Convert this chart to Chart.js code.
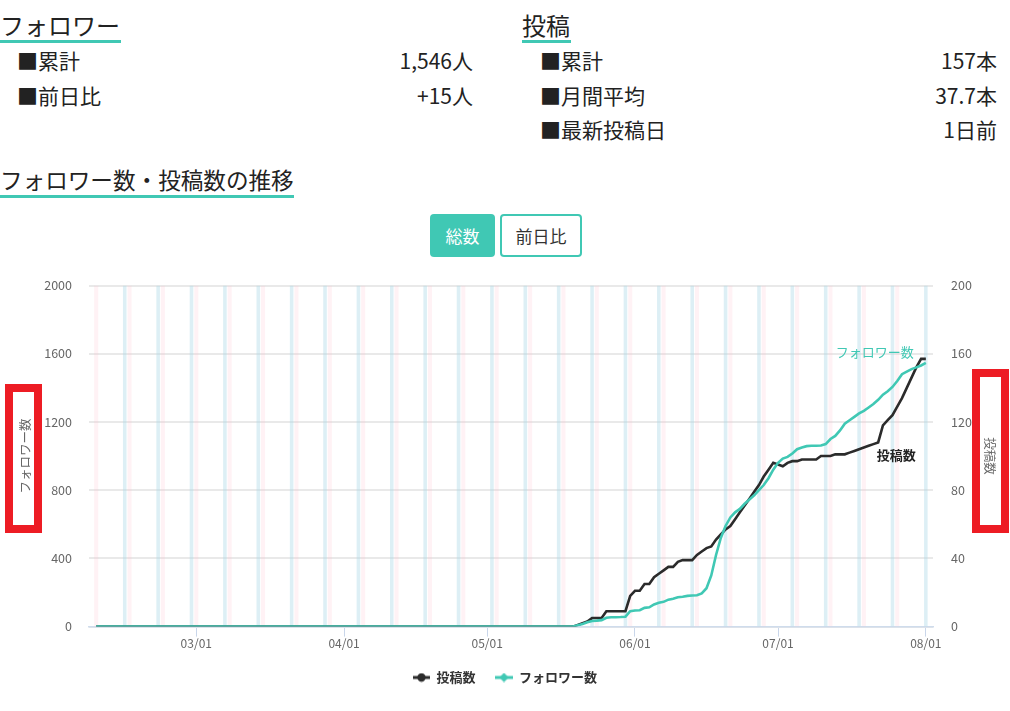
<!DOCTYPE html>
<html><head><meta charset="utf-8">
<script src="https://cdn.jsdelivr.net/npm/chart.js@4.4.0/dist/chart.umd.min.js"></script>
<style>
body{margin:0;background:#fff;font-family:'Noto Sans CJK JP',sans-serif;color:#222;width:1010px;height:711px;overflow:hidden;position:relative}
.a{position:absolute;white-space:nowrap}
.h{font-size:24px;line-height:24px}
.u{position:absolute;height:3px;background:#40c8b4}
.r{font-size:21px;line-height:21px}
.btn{position:absolute;top:214px;height:43px;box-sizing:border-box;border-radius:4px;font-size:17px;display:flex;align-items:center;justify-content:center}
.box{position:absolute;border:8px solid #ed1c24;box-sizing:border-box;background:#fff}
#wrap{position:absolute;left:0;top:260px;width:1010px;height:450px}
</style></head><body>
<div class="a h" style="left:0;top:13px">フォロワー</div>
<div class="u" style="left:0;top:40px;width:121px"></div>
<div class="a r" style="left:17px;top:49.5px">■累計</div>
<div class="a r" style="right:537px;top:49.5px">1,546人</div>
<div class="a r" style="left:17px;top:84.5px">■前日比</div>
<div class="a r" style="right:537px;top:84.5px">+15人</div>

<div class="a h" style="left:522px;top:13px">投稿</div>
<div class="u" style="left:522px;top:40px;width:49px"></div>
<div class="a r" style="left:540px;top:49.5px">■累計</div>
<div class="a r" style="right:13px;top:49.5px">157本</div>
<div class="a r" style="left:540px;top:84.5px">■月間平均</div>
<div class="a r" style="right:13px;top:84.5px">37.7本</div>
<div class="a r" style="left:540px;top:118.5px">■最新投稿日</div>
<div class="a r" style="right:13px;top:118.5px">1日前</div>

<div class="a" style="left:0;top:168.7px;font-size:22.6px;line-height:22.6px">フォロワー数・投稿数の推移</div>
<div class="u" style="left:0;top:195px;width:294px"></div>

<div class="btn" style="left:430px;width:65px;background:#40c8b4;color:#fff">総数</div>
<div class="btn" style="left:500px;width:82px;border:2px solid #40c8b4;color:#333;background:#fff">前日比</div>

<div class="box" style="left:5px;top:384px;width:37px;height:149px"></div>
<div class="box" style="left:972px;top:369px;width:37px;height:164px"></div>

<div id="wrap"><canvas id="c" width="1010" height="450"></canvas></div>
<script>
// ---- data ----
const firstDay = [2020, 1, 8];   // first category (padding day), Feb 8 2020
const dayCount = 177;            // Feb 8 .. Aug 2
const monthTicks = ['03/01','04/01','05/01','06/01','07/01','08/01'];
const followerTicks = [0,400,800,1200,1600,2000];
const postTicks = [0,40,80,120,160,200];

// daily totals, Feb 9 .. Aug 1
const posts = [
0,0,0,0,0,0,0,0,0,0, 0,0,0,0,0,0,0,0,0,0,
0,0,0,0,0,0,0,0,0,0, 0,0,0,0,0,0,0,0,0,0,
0,0,0,0,0,0,0,0,0,0, 0,0,0,0,0,0,0,0,0,0,
0,0,0,0,0,0,0,0,0,0, 0,0,0,0,0,0,0,0,0,0,
0,0,0,0,0,0,0,0,0,0, 0,0,0,0,0,0,0,0,0,0,
0,
1,2,3,5,5,5,9,9,9,9,
9,18,21,21,25,25,29,31,33,35,
35,38,39,39,39,42,44,46,47,51,
54,57,59,63,67,71,75,79,83,88,
92,96,95,94,96,97,97,98,98,98,
98,100,100,100,101,101,101,102,103,104,
105,106,107,108,118,121,124,129,134,140,
146,152,157,157
];
const followers = [
0,0,0,0,0,0,0,0,0,0, 0,0,0,0,0,0,0,0,0,0,
0,0,0,0,0,0,0,0,0,0, 0,0,0,0,0,0,0,0,0,0,
0,0,0,0,0,0,0,0,0,0, 0,0,0,0,0,0,0,0,0,0,
0,0,0,0,0,0,0,0,0,0, 0,0,0,0,0,0,0,0,0,0,
0,0,0,0,0,0,0,0,0,0, 0,0,0,0,0,0,0,0,0,0,
0,
8,15,25,33,35,38,52,55,55,56,
58,90,94,96,110,113,130,140,145,158,
163,172,175,180,182,184,195,225,300,420,
520,590,640,670,690,720,745,770,800,830,
870,920,960,985,995,1015,1040,1050,1058,1060,
1060,1062,1070,1100,1118,1150,1190,1210,1230,1250,
1265,1285,1305,1330,1360,1380,1405,1440,1480,1495,
1510,1520,1531,1546
];

// ---- calendar categories ----
const categories = [], weekday = [];
for (let i = 0; i < dayCount; i++) {
  const d = new Date(firstDay[0], firstDay[1], firstDay[2] + i);
  categories.push(String(d.getMonth()+1).padStart(2,'0') + '/' + String(d.getDate()).padStart(2,'0'));
  weekday.push(d.getDay());
}
const hasData = i => i >= 1 && i <= posts.length;
const satBand = weekday.map((w,i) => (w === 6 && hasData(i)) ? 1 : null);
const sunBand = weekday.map((w,i) => (w === 0 && hasData(i)) ? 1 : null);
const postSeries = [null, ...posts, null];
const followerSeries = [null, ...followers, null];

const TEAL = '#40c8b4', DARK = '#2b2b2b';
const FONT = "'Noto Sans CJK JP', sans-serif";

function marker(color, kind){
  const c = document.createElement('canvas'); c.width = 17; c.height = 10;
  const g = c.getContext('2d');
  g.strokeStyle = color; g.lineWidth = 3;
  g.beginPath(); g.moveTo(0,5); g.lineTo(17,5); g.stroke();
  g.fillStyle = color; g.beginPath();
  if (kind === 'circle') g.arc(8.5,5,4.2,0,Math.PI*2);
  else { g.moveTo(8.5,0.3); g.lineTo(13,5); g.lineTo(8.5,9.7); g.lineTo(4,5); g.closePath(); }
  g.fill();
  return c;
}
const markers = [marker(DARK,'circle'), marker(TEAL,'diamond')];

const endLabels = {
  id: 'endLabels',
  afterDatasetsDraw(chart){
    const ctx = chart.ctx, last = posts.length;
    const pF = chart.getDatasetMeta(1).data[last];
    const pP = chart.getDatasetMeta(0).data[last];
    ctx.save();
    ctx.textAlign = 'right'; ctx.textBaseline = 'middle';
    ctx.font = "13px " + FONT; ctx.fillStyle = TEAL;
    ctx.fillText('フォロワー数', pF.x - 12, pF.y - 11);
    ctx.font = "bold 13px " + FONT; ctx.fillStyle = '#222';
    ctx.fillText('投稿数', pP.x - 10, pP.y + 96);
    ctx.restore();
  }
};

Chart.defaults.font.family = FONT;
Chart.defaults.color = '#666';

new Chart(document.getElementById('c'), {
  type: 'line',
  data: {
    labels: categories,
    datasets: [
      { label: '投稿数', data: postSeries, yAxisID: 'y2', borderColor: DARK, backgroundColor: DARK,
        borderWidth: 2.6, pointRadius: 0, tension: 0, order: 2 },
      { label: 'フォロワー数', data: followerSeries, yAxisID: 'y', borderColor: TEAL, backgroundColor: TEAL,
        borderWidth: 2.6, pointRadius: 0, tension: 0, order: 1 },
      { type: 'bar', label: 'sat', data: satBand, yAxisID: 'yBg', backgroundColor: 'rgba(173,216,232,0.42)',
        barPercentage: 0.75, categoryPercentage: 1, grouped: false, order: 10 },
      { type: 'bar', label: 'sun', data: sunBand, yAxisID: 'yBg', backgroundColor: 'rgba(255,190,205,0.2)',
        barPercentage: 0.85, categoryPercentage: 1, grouped: false, order: 11 }
    ]
  },
  options: {
    responsive: false, animation: false,
    layout: { padding: { top: 25, right: 0, bottom: 16, left: 0 } },
    plugins: {
      tooltip: { enabled: false },
      legend: {
        position: 'bottom',
        labels: {
          usePointStyle: true, pointStyleWidth: 17, padding: 20, color: '#333',
          font: { size: 13, weight: 'bold' },
          sort: (a, b) => a.datasetIndex - b.datasetIndex,
          generateLabels(chart){
            return Chart.defaults.plugins.legend.labels.generateLabels(chart)
              .filter(l => l.datasetIndex < 2)
              .map(l => { l.pointStyle = markers[l.datasetIndex]; l.fontColor = '#333'; return l; });
          }
        }
      }
    },
    scales: {
      x: {
        type: 'category', offset: true,
        grid: { offset: false, drawOnChartArea: false, drawTicks: true, tickLength: 10,
          color: c => monthTicks.includes(categories[c.index]) ? '#c9d6ea' : 'rgba(0,0,0,0)' },
        border: { display: true, color: '#cfdcec', width: 1.5 },
        ticks: { autoSkip: false, maxRotation: 0, padding: 0, font: { size: 12 }, color: '#666',
          callback: (v, i) => monthTicks.includes(categories[i]) ? categories[i] : '' }
      },
      y: {
        position: 'left', min: 0, max: 2000,
        afterBuildTicks: ax => { ax.ticks = followerTicks.map(v => ({ value: v })); },
        afterFit: ax => { ax.width = 89; },
        grid: { color: '#e9e9e9', lineWidth: 2, drawTicks: false },
        border: { display: false },
        ticks: { padding: 17, font: { size: 12.5 }, color: '#666', callback: v => String(v) },
        title: { display: true, text: 'フォロワー数', color: '#666', font: { size: 12.5 },
          padding: { top: 17.5, bottom: 4 } }
      },
      y2: {
        position: 'right', min: 0, max: 200,
        afterBuildTicks: ax => { ax.ticks = postTicks.map(v => ({ value: v })); },
        afterFit: ax => { ax.width = 77; },
        grid: { drawOnChartArea: false, drawTicks: false },
        border: { display: false },
        ticks: { padding: 18, font: { size: 12.5 }, color: '#666', callback: v => String(v) },
        title: { display: true, text: '投稿数', color: '#666', font: { size: 12.5 },
          padding: { top: 12.5, bottom: 4 } }
      },
      yBg: { display: false, min: 0, max: 1 }
    }
  },
  plugins: [endLabels]
});
</script>
</body></html>
